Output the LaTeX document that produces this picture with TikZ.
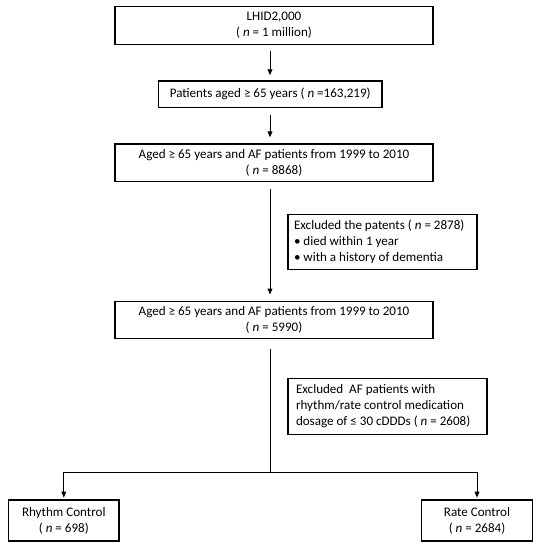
\documentclass[tikz,border=0pt]{standalone}
\usepackage{fontspec}
\setmainfont{Carlito}
\usetikzlibrary{arrows.meta}
\tikzset{
  box/.style={draw, line width=0.9pt, inner sep=0pt, align=center, font=\fontsize{9.8}{12}\selectfont},
  wide/.style={box, minimum width=238.5pt, minimum height=28.3pt},
  side/.style={box, align=flush left},
  leaf/.style={box, minimum width=82.8pt, minimum height=30.75pt},
  arr/.style={-{Triangle[width=3.6pt,length=4.5pt]}, line width=0.7pt},
}
\begin{document}
\begin{tikzpicture}[x=0.75pt,y=-0.75pt]
\useasboundingbox (0,0) rectangle (538,550);
\coordinate (spine) at (270,0);
\coordinate (fork) at (270,472.7);

\node[wide] (lhid) at (274,25.5) {LHID2,000\\( \textit{n} = 1 million)};
\node[box, minimum width=167.6pt, minimum height=20pt] (aged) at (270.25,94.3) {Patients aged ≥ 65 years ( \textit{n} =163,219)};
\node[wide] (af) at (274,162.8) {Aged ≥ 65 years and AF patients from 1999 to 2010\\( \textit{n} = 8868)};
\node[side, inner xsep=4.5pt, text width=132.75pt, minimum height=41.25pt] (excla) at (382.5,241.8) {Excluded the patents ( \textit{n} = 2878)\\• died within 1 year\\• with a history of dementia};
\node[wide] (afkept) at (274,320) {Aged ≥ 65 years and AF patients from 1999 to 2010\\( \textit{n} = 5990)};
\node[side, inner xsep=6pt, text width=137.25pt, minimum height=42pt] (exclb) at (387.5,406.3) {Excluded \ AF patients with\\rhythm/rate control medication\\dosage of ≤ 30 cDDDs ( \textit{n} = 2608)};
\node[leaf] (rhythm) at (63.8,520.5) {Rhythm Control\\( \textit{n} = 698)};
\node[leaf] (rate) at (477,520.5) {Rate Control\\( \textit{n} = 2684)};

\draw[arr, shorten <=4.8pt, shorten >=3.8pt] (lhid.south -| spine) -- (aged.north -| spine);
\draw[arr, shorten <=4.8pt, shorten >=4.5pt] (aged.south -| spine) -- (af.north -| spine);
\draw[arr, shorten <=4.8pt, shorten >=4.5pt] (af.south -| spine) -- (afkept.north -| spine);
\draw[line width=0.7pt, shorten <=7.5pt] (afkept.south -| spine) -- (fork);
\draw[arr, shorten >=1.3pt] (fork) -| (rhythm.north);
\draw[arr, shorten >=1.3pt] (fork) -| (rate.north);
\end{tikzpicture}
\end{document}
